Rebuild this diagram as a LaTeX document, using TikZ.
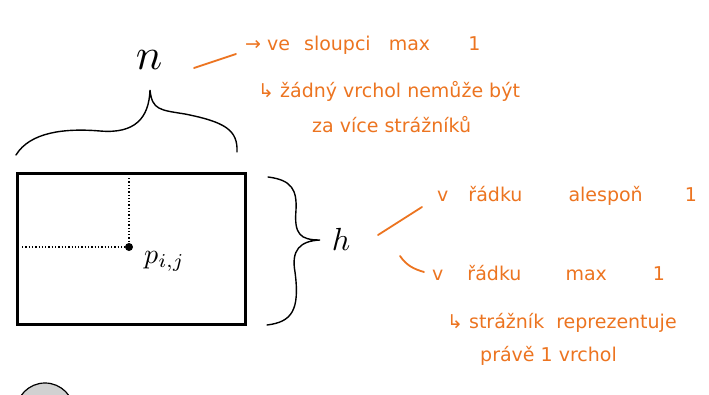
\documentclass[tikz,border=0pt]{standalone}
\usepackage{graphicx}
\usepackage{fontspec}
\newfontfamily\handfont{DejaVu Sans}
\definecolor{inkorange}{RGB}{236,116,32}
\begin{document}
\begin{tikzpicture}[x=1pt,y=-1pt,
  note/.style={text=inkorange,font=\handfont\fontsize{19}{22}\selectfont,anchor=west,inner sep=0pt},
  ostroke/.style={draw=inkorange,line width=1.8pt,line cap=round},
  ink/.style={draw=black,line width=1.4pt,line cap=round},
  dots/.style={draw=black,line width=1.3pt,dotted}]
\useasboundingbox (0,0) rectangle (709,394);
% grid rectangle
\node[draw=black,line width=2.6pt,minimum width=228pt,minimum height=151pt,inner sep=0pt,anchor=north west] (box) at (16,172) {};
\node[circle,fill=black,inner sep=0pt,minimum size=8pt] (p) at (129,247) {};
\coordinate (ptop) at (129,178);
\coordinate (pleft) at (22,247);
\draw[dots] (ptop) -- (p);
\draw[dots] (pleft) -- (p);
\node[anchor=west,inner sep=0pt] (plab) at (144,261) {\scalebox{2.8}{$p_{i,j}$}};
% top brace
\draw[ink] (16,155) .. controls (30,132) and (65,128) .. (100,131) .. controls (135,134) and (149,118) .. (150,90)
  .. controls (152,110) and (160,110) .. (185,114) .. controls (225,122) and (238,130) .. (237,152);
\node (n) at (149,60) {\scalebox{4.4}{$n$}};
% right brace
\draw[ink] (268,177) .. controls (292,180) and (297,190) .. (296,210) .. controls (294,234) and (300,240) .. (320,240)
  .. controls (300,241) and (291,250) .. (295,272) .. controls (300,310) and (292,322) .. (267,325);
\node (h) at (341,239) {\scalebox{3.2}{$h$}};
% orange notes top
\coordinate (s1a) at (194,68);
\coordinate (s1b) at (236,54);
\draw[ostroke] (s1a) -- (s1b);
\node[note] (t1) at (245,45) {→ ve\hspace{8pt} sloupci\hspace{12pt} max\hspace{32pt} 1};
\node[note] (t2) at (258,91) {↳ žádný vrchol nemůže být};
\node[note] (t3) at (312,125) {za více strážníků};
% orange notes right
\coordinate (s2a) at (378,235);
\coordinate (s2b) at (422,207);
\draw[ostroke] (s2a) -- (s2b);
\coordinate (s3a) at (400,256);
\coordinate (s3b) at (424,272);
\draw[ostroke] (s3a) .. controls (407,266) and (414,269) .. (s3b);
\node[note] (t4) at (437,196) {v\hspace{14pt} řádku\hspace{40pt} alespoň\hspace{36pt} 1};
\node[note] (t5) at (432,273) {v\hspace{18pt} řádku\hspace{38pt} max\hspace{40pt} 1};
\node[note] (t6) at (447,323) {↳ strážník\hspace{6pt} reprezentuje};
\node[note] (t7) at (480,356) {právě 1 vrchol};
% partial circle at bottom
\begin{scope}
\clip (0,0) rectangle (709,394);
\node[circle,draw=black,line width=1.2pt,fill=black!18,minimum size=58pt,inner sep=0pt] (c) at (45,412) {};
\end{scope}
\end{tikzpicture}
\end{document}
